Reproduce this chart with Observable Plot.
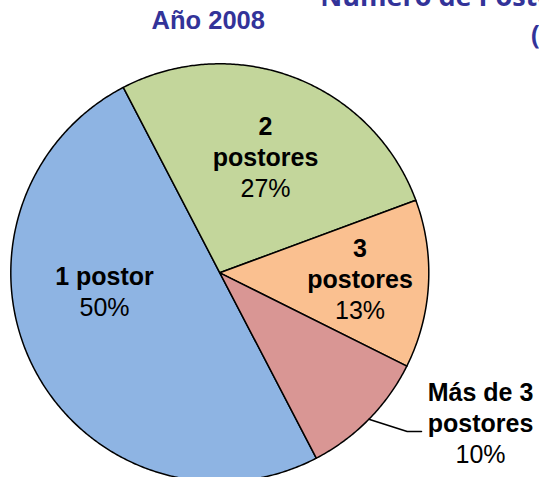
<!DOCTYPE html>
<html><head><meta charset="utf-8">
<script src="https://cdn.jsdelivr.net/npm/d3@7"></script>
<script src="https://cdn.jsdelivr.net/npm/@observablehq/plot@0.6"></script>
<style>
html,body{margin:0;padding:0;background:#fff;}
#wrap{position:relative;width:539px;height:477px;overflow:hidden;background:#fff;}
#wrap svg{display:block;}
.t{position:absolute;white-space:nowrap;line-height:1;color:#333399;font-weight:bold;}
</style></head><body>
<div id="wrap"></div>
<script>
// ---- data ----
const categorias = ["1 postor", "2 postores", "3 postores", "Más de 3 postores"];
const porcentajes = [50, 27, 13, 10];
const etiquetas = [["1 postor"], ["2", "postores"], ["3", "postores"], ["Más de 3", "postores"]];
const colores = ["#8EB4E3", "#C3D69B", "#FAC090", "#D99694"];
const titulo = "Año 2008";
const tituloGeneral = "Número de Postores";

// ---- layout ----
const W = 539, H = 477, CX = 219.3, CY = 272.3, R = 209;
const ROT = 152.5 * Math.PI / 180;
const FS = 25, LH = 31;
// label block anchors (center x, baseline of last line), px offsets from pie centre
const labelAnchors = [[-115.3, 42.7], [45.7, -76.3], [140.2, 45.7], [260.7, 189.7]];
const leaderElbow = [187.4, 158.7], leaderEnd = [201.7, 158.7];

// ---- slices ----
const arcs = d3.pie().sort(null).startAngle(ROT).endAngle(ROT + 2 * Math.PI)(porcentajes);
const pts = [];
arcs.forEach((s, i) => {
  const n = Math.max(2, Math.ceil((s.endAngle - s.startAngle) / (Math.PI / 360)));
  pts.push({k: categorias[i], x: 0, y: 0});
  for (let j = 0; j <= n; j++) {
    const a = s.startAngle + (s.endAngle - s.startAngle) * j / n;
    pts.push({k: categorias[i], x: Math.sin(a), y: Math.cos(a)});
  }
  pts.push({k: categorias[i], x: 0, y: 0});
});

// leader line for the last slice
const last = arcs[3];
const mid = (last.startAngle + last.endAngle) / 2;
const leader = [
  {x: Math.sin(mid), y: Math.cos(mid)},
  {x: leaderElbow[0] / R, y: -leaderElbow[1] / R},
  {x: leaderEnd[0] / R, y: -leaderEnd[1] / R}
];

// label rows
const filas = [];
etiquetas.forEach((lines, i) => {
  const [ax, ay] = labelAnchors[i];
  const all = [...lines.map(t => ({t, b: true})), {t: porcentajes[i] + "%", b: false}];
  all.forEach((l, j) => {
    const py = ay - (all.length - 1 - j) * LH;
    filas.push({x: ax / R, y: -py / R, text: l.t, bold: l.b});
  });
});

const chart = Plot.plot({
  width: W, height: H, margin: 0,
  x: {domain: [-CX / R, (W - CX) / R], axis: null},
  y: {domain: [-(H - CY) / R, CY / R], axis: null},
  color: {domain: categorias, range: colores},
  style: {fontFamily: "'Liberation Sans', Arial, sans-serif", background: "#fff", color: "#000"},
  marks: [
    Plot.line(pts, {x: "x", y: "y", z: "k", fill: "k", stroke: "#000", strokeWidth: 1.5, curve: "linear"}),
    Plot.line(leader, {x: "x", y: "y", stroke: "#000", strokeWidth: 1.5, curve: "linear"}),
    Plot.text(filas.filter(d => d.bold), {x: "x", y: "y", text: "text", fontSize: FS, fontWeight: "bold", lineAnchor: "bottom", fill: "#000"}),
    Plot.text(filas.filter(d => !d.bold), {x: "x", y: "y", text: "text", fontSize: FS, lineAnchor: "bottom", fill: "#000"})
  ]
});

const wrap = document.getElementById("wrap");
wrap.appendChild(chart);

function addTitle(text, left, baseline, size, family, ascentOffset, center) {
  const d = document.createElement("div");
  d.className = "t";
  d.textContent = text;
  d.style.fontFamily = family;
  d.style.fontSize = size + "px";
  d.style.left = left + "px";
  d.style.top = (baseline - ascentOffset * size) + "px";
  if (center) d.style.transform = "translateX(-50%)";
  wrap.appendChild(d);
}
addTitle(titulo, 208.3, 30, 25.5, "'Liberation Sans', Arial, sans-serif", 0.8465, true);
addTitle(tituloGeneral, 320.3, 6, 27, "'Open Sans', sans-serif", 0.888, false);
addTitle("(", 531, 44, 26, "'Open Sans', sans-serif", 0.888, false);
</script>
</body></html>
